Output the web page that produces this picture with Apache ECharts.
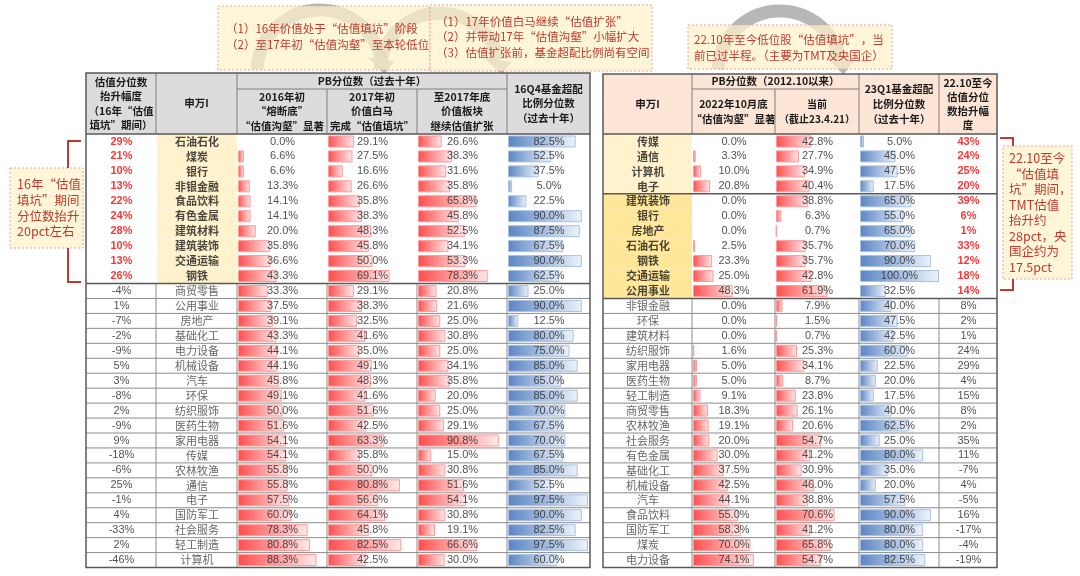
<!DOCTYPE html>
<html>
<head>
<meta charset="utf-8">
<script src="https://cdn.jsdelivr.net/npm/echarts@6/dist/echarts.min.js"></script>
<style>
html, body { margin: 0; padding: 0; background: #fff; }
#main { width: 1080px; height: 576px; }
</style>
</head>
<body>
<div id="main"></div>
<script>
// ---- data: left table (16-17年) ----
var leftNames = ['石油石化', '煤炭', '银行', '非银金融', '食品饮料', '有色金属', '建筑材料', '建筑装饰', '交通运输', '钢铁',
    '商贸零售', '公用事业', '房地产', '基础化工', '电力设备', '机械设备', '汽车', '环保', '纺织服饰', '医药生物',
    '家用电器', '传媒', '农林牧渔', '通信', '电子', '国防军工', '社会服务', '轻工制造', '计算机'];
var leftRise = [29, 21, 10, 13, 22, 24, 28, 10, 13, 26, -4, 1, -7, -2, -9, 5, 3, -8, 2, -9, 9, -18, -6, 25, -1, 4, -33, 2, -46];
var left2016 = [0.0, 6.6, 6.6, 13.3, 14.1, 14.1, 20.0, 35.8, 36.6, 43.3, 33.3, 37.5, 39.1, 43.3, 44.1, 44.1, 45.8, 49.1,
    50.0, 51.6, 54.1, 54.1, 55.8, 55.8, 57.5, 60.0, 78.3, 80.8, 88.3];
var left2017a = [29.1, 27.5, 16.6, 26.6, 35.8, 38.3, 48.3, 45.8, 50.0, 69.1, 29.1, 38.3, 32.5, 41.6, 35.0, 49.1, 48.3, 41.6,
    51.6, 42.5, 63.3, 35.8, 50.0, 80.8, 56.6, 64.1, 45.8, 82.5, 42.5];
var left2017b = [26.6, 38.3, 31.6, 35.8, 65.8, 45.8, 52.5, 34.1, 53.3, 78.3, 20.8, 21.6, 25.0, 30.8, 25.0, 34.1, 35.8, 20.0,
    25.0, 29.1, 90.8, 15.0, 30.8, 51.6, 54.1, 30.8, 19.1, 66.6, 30.0];
var left16Q4 = [82.5, 52.5, 37.5, 5.0, 22.5, 90.0, 87.5, 67.5, 90.0, 62.5, 25.0, 90.0, 12.5, 80.0, 75.0, 85.0, 65.0, 85.0,
    70.0, 67.5, 70.0, 67.5, 85.0, 52.5, 97.5, 90.0, 82.5, 97.5, 60.0];
var leftHot = 10;   // rows highlighted

// ---- data: right table (22.10以来) ----
var rightNames = ['传媒', '通信', '计算机', '电子', '建筑装饰', '银行', '房地产', '石油石化', '钢铁', '交通运输', '公用事业',
    '非银金融', '环保', '建筑材料', '纺织服饰', '家用电器', '医药生物', '轻工制造', '商贸零售', '农林牧渔', '社会服务',
    '有色金属', '基础化工', '机械设备', '汽车', '食品饮料', '国防军工', '煤炭', '电力设备'];
var right2210 = [0.0, 3.3, 10.0, 20.8, 0.0, 0.0, 0.0, 2.5, 23.3, 25.0, 48.3, 0.0, 0.0, 0.0, 1.6, 5.0, 5.0, 9.1, 18.3, 19.1,
    20.0, 30.0, 37.5, 42.5, 44.1, 55.0, 58.3, 70.0, 74.1];
var rightNow = [42.8, 27.7, 34.9, 40.4, 38.8, 6.3, 0.7, 35.7, 35.7, 42.8, 61.9, 7.9, 1.5, 0.7, 25.3, 34.1, 8.7, 23.8, 26.1,
    20.6, 54.7, 41.2, 30.9, 46.0, 38.8, 70.6, 41.2, 65.8, 54.7];
var right23Q1 = [5.0, 45.0, 47.5, 17.5, 65.0, 55.0, 65.0, 70.0, 90.0, 100.0, 32.5, 40.0, 47.5, 42.5, 60.0, 22.5, 20.0, 17.5,
    40.0, 62.5, 25.0, 80.0, 35.0, 20.0, 57.5, 90.0, 80.0, 80.0, 82.5];
var rightRise = [43, 24, 25, 20, 39, 6, 1, 33, 12, 18, 14, 8, 2, 1, 24, 29, 4, 15, 8, 2, 35, 11, -7, 4, -5, 16, -17, -4, -19];
var rightTMT = 4, rightHot = 11;

// header texts
var leftHead = ['估值分位数\n抬升幅度\n（16年“估值\n填坑”期间）', '申万I', 'PB分位数（过去十年）',
    '2016年初\n“熔断底”\n“估值沟壑”显著', '2017年初\n价值白马\n完成“估值填坑”', '至2017年底\n价值板块\n继续估值扩张',
    '16Q4基金超配\n比例分位数\n（过去十年）'];
var rightHead = ['申万I', 'PB分位数（2012.10以来）', '2022年10月底\n“估值沟壑”显著', '当前\n（截止23.4.21）',
    '23Q1基金超配\n比例分位数\n（过去十年）', '22.10至今\n估值分位\n数抬升幅\n度'];
var notes = ['（1）16年价值处于“估值填坑”阶段\n（2）至17年初“估值沟壑”至本轮低位',
    '（1）17年价值白马继续“估值扩张”\n（2）并带动17年“估值沟壑”小幅扩大\n（3）估值扩张前，基金超配比例尚有空间',
    '22.10年至今低位股“估值填坑”，当\n前已过半程。（主要为TMT及央国企）',
    '16年“估值\n填坑”期间\n分位数抬升\n20pct左右',
    '22.10至今\n“估值填\n坑”期间，\nTMT估值\n抬升约\n28pct，央\n国企约为\n17.5pct'];

var TOP = 134, RH = 14.95, N = 29, BOT = TOP + RH * N;
var LX = [86, 156, 237, 327, 417, 507, 590];
var RX = [603, 692, 775, 859, 939, 997];
var CJK = '"Noto Sans CJK SC", sans-serif';
var NUM = '"Liberation Sans", Arial, sans-serif';
var NOTE_C = '#c0392b';

var grids = [], xAxes = [], yAxes = [], series = [], g = [];
var rowIdx = leftNames.map(function (_, i) { return String(i); });

function addGrid(x0, x1) {
    var k = grids.length;
    grids.push({left: x0 + 1, width: x1 - x0 - 1, top: TOP, height: RH * N});
    xAxes.push({gridIndex: k, type: 'value', min: 0, max: 100, show: false});
    yAxes.push({gridIndex: k, type: 'category', inverse: true, show: false, data: rowIdx});
    return k;
}

function textCol(k, texts, font, styleFn) {
    series.push({
        type: 'scatter', xAxisIndex: k, yAxisIndex: k, symbolSize: 1, silent: true, z: 5,
        itemStyle: {color: 'rgba(0,0,0,0)'},
        data: texts.map(function (t, i) {
            var d = {value: [50, i]};
            if (styleFn) d.label = styleFn(i);
            return d;
        }),
        label: {
            show: true, position: 'inside', color: '#262626', fontFamily: font, fontSize: 11,
            formatter: function (p) { return texts[p.dataIndex]; }
        }
    });
}

function barCol(k, vals, c0, c1, border) {
    series.push({
        type: 'bar', xAxisIndex: k, yAxisIndex: k, barWidth: 12, silent: true, z: 2,
        data: vals.map(function (v) { return v === 0 ? '-' : v; }),
        itemStyle: {
            color: {type: 'linear', x: 0, y: 0, x2: 1, y2: 0,
                colorStops: [{offset: 0, color: c0}, {offset: 1, color: c1}]},
            borderColor: border, borderWidth: 1
        }
    });
    textCol(k, vals.map(function (v) { return v.toFixed(1) + '%'; }), NUM);
}
function redCol(k, vals) { barCol(k, vals, '#ff4d4d', '#ffeaea', '#ff9a9a'); }
function blueCol(k, vals) { barCol(k, vals, '#5a85c4', '#eef3fa', '#a9c0e2'); }

function fillCol(k, colorFn) {
    series.push({
        type: 'bar', xAxisIndex: k, yAxisIndex: k, barWidth: '100%', silent: true, z: 1,
        data: rowIdx.map(function (_, i) {
            var c = colorFn(i);
            return c ? {value: 100, itemStyle: {color: c}} : '-';
        })
    });
}

// ---- left table ----
var k;
k = addGrid(LX[0], LX[1]);
textCol(k, leftRise.map(function (v) { return v + '%'; }), NUM, function (i) {
    return i < leftHot ? {color: '#ff0000', fontWeight: 'bold'} : {};
});
k = addGrid(LX[1], LX[2]);
fillCol(k, function (i) { return i < leftHot ? '#fff2cc' : null; });
textCol(k, leftNames, CJK, function (i) {
    return i < leftHot ? {fontWeight: 'bold', color: '#1a1a1a'} : {color: '#404040'};
});
redCol(addGrid(LX[2], LX[3]), left2016);
redCol(addGrid(LX[3], LX[4]), left2017a);
redCol(addGrid(LX[4], LX[5]), left2017b);
blueCol(addGrid(LX[5], LX[6]), left16Q4);

// ---- right table ----
k = addGrid(RX[0], RX[1]);
fillCol(k, function (i) { return i < rightTMT ? '#fff2cc' : (i < rightHot ? '#ffe699' : null); });
textCol(k, rightNames, CJK, function (i) {
    return i < rightHot ? {fontWeight: 'bold', color: '#1a1a1a'} : {color: '#404040'};
});
redCol(addGrid(RX[1], RX[2]), right2210);
redCol(addGrid(RX[2], RX[3]), rightNow);
blueCol(addGrid(RX[3], RX[4]), right23Q1);
k = addGrid(RX[4], RX[5]);
textCol(k, rightRise.map(function (v) { return v + '%'; }), NUM, function (i) {
    return i < rightHot ? {color: '#ff0000', fontWeight: 'bold'} : {};
});

// ---- graphic helpers ----
function line(x1, y1, x2, y2, c, w, z) {
    g.push({type: 'line', z: z || 100, silent: true, shape: {x1: x1, y1: y1, x2: x2, y2: y2},
        style: {stroke: c, lineWidth: w}});
}
function cell(x0, y0, x1, y1, fill, text, fs) {
    g.push({type: 'rect', z: 20, silent: true, shape: {x: x0, y: y0, width: x1 - x0, height: y1 - y0},
        style: {fill: fill}});
    var nl = text.split('\n').length;
    g.push({type: 'text', z: 30, silent: true,
        style: {text: text, x: (x0 + x1) / 2, y: (y0 + y1) / 2, align: 'center', verticalAlign: 'middle',
            font: 'bold ' + (fs || 10.5) + 'px ' + CJK, lineHeight: nl > 3 ? 14.2 : 14.8, fill: '#1a1a1a'}});
}

// arcs (decoration behind the notes)
function arrowArc(cx, cy, r) {
    g.push({type: 'arc', z: 2, silent: true,
        shape: {cx: cx, cy: cy, r: r, startAngle: Math.PI * 1.02, endAngle: Math.PI * 1.93, clockwise: true},
        style: {stroke: 'rgba(165,165,165,0.8)', lineWidth: 13, fill: null}});
    var a = Math.PI * 1.93, ex = cx + r * Math.cos(a), ey = cy + r * Math.sin(a);
    g.push({type: 'polygon', z: 2, silent: true,
        shape: {points: [[ex - 14, ey - 2], [ex + 13, ey + 2], [ex + 3, ey + 15]]},
        style: {fill: 'rgba(165,165,165,0.8)'}});
}
arrowArc(320, 73, 63);
arrowArc(440, 73, 60);
arrowArc(780, 73, 62);

function noteBox(x0, y0, x1, y1, text, tx, ty, fs, lh, align) {
    g.push({type: 'rect', z: 4, silent: true, shape: {x: x0, y: y0, width: x1 - x0, height: y1 - y0},
        style: {fill: 'rgba(255,242,204,0.72)', stroke: '#f2a0a0', lineWidth: 1, lineDash: [2, 2]}});
    g.push({type: 'text', z: 5, silent: true,
        style: {text: text, x: tx, y: ty, align: align || 'left', verticalAlign: 'middle',
            font: fs + 'px ' + CJK, lineHeight: lh, fill: NOTE_C}});
}
noteBox(218, 6, 430, 70, notes[0], 226, 37, 11.5, 16);
noteBox(430, 5, 652, 71, notes[1], 436, 37, 11.5, 15.5);
noteBox(688, 25, 892, 69, notes[2], 694, 48, 11.5, 16);
noteBox(10, 168, 83, 248, notes[3], 17, 208, 12.5, 15.8);
noteBox(1003, 146, 1072, 279, notes[4], 1009, 212.5, 12.5, 15.5);

// brackets
g.push({type: 'polyline', z: 6, silent: true, shape: {points: [[81, 141], [68, 141], [68, 168]]},
    style: {stroke: NOTE_C, lineWidth: 2, fill: null}});
g.push({type: 'polyline', z: 6, silent: true, shape: {points: [[68, 248], [68, 282], [81, 282]]},
    style: {stroke: NOTE_C, lineWidth: 2, fill: null}});
g.push({type: 'polyline', z: 6, silent: true, shape: {points: [[1000, 138], [1013, 138], [1013, 146]]},
    style: {stroke: NOTE_C, lineWidth: 2, fill: null}});
g.push({type: 'polyline', z: 6, silent: true, shape: {points: [[1013, 279], [1013, 290], [1000, 290]]},
    style: {stroke: NOTE_C, lineWidth: 2, fill: null}});

// ---- left header ----
var HT = 73, HM = 89;
var LG = '#dcdcdc';
cell(LX[0], HT, LX[1], TOP, LG, leftHead[0]);
cell(LX[1], HT, LX[2], TOP, LG, leftHead[1]);
cell(LX[2], HT, LX[5], HM, LG, leftHead[2]);
cell(LX[2], HM, LX[3], TOP, LG, leftHead[3]);
cell(LX[3], HM, LX[4], TOP, LG, leftHead[4]);
cell(LX[4], HM, LX[5], TOP, LG, leftHead[5]);
cell(LX[5], HT, LX[6], TOP, LG, leftHead[6]);
[1, 2, 5].forEach(function (i) { line(LX[i], HT, LX[i], TOP, '#7f7f7f', 1); });
[3, 4].forEach(function (i) { line(LX[i], HM, LX[i], TOP, '#7f7f7f', 1); });
line(LX[2], HM, LX[5], HM, '#7f7f7f', 1);

// left body lines
var ySep = TOP + RH * leftHot;
for (var r = leftHot + 1; r < N; r++) line(LX[0], TOP + RH * r, LX[6], TOP + RH * r, '#8c8c8c', 1);
for (var c = 1; c < LX.length - 1; c++) line(LX[c], ySep, LX[c], BOT, '#8c8c8c', 1);
line(LX[0], ySep, LX[6], ySep, '#595959', 1.5);
line(LX[0], TOP, LX[6], TOP, '#595959', 1.5);
g.push({type: 'rect', z: 101, silent: true, shape: {x: LX[0], y: HT, width: LX[6] - LX[0], height: BOT - HT},
    style: {fill: null, stroke: '#595959', lineWidth: 1.5}});

// ---- right header ----
var RT = 74, RG = '#fce4d6';
cell(RX[0], RT, RX[1], TOP, RG, rightHead[0]);
cell(RX[1], RT, RX[3], HM, RG, rightHead[1]);
cell(RX[1], HM, RX[2], TOP, RG, rightHead[2]);
cell(RX[2], HM, RX[3], TOP, RG, rightHead[3], 10);
cell(RX[3], RT, RX[4], TOP, RG, rightHead[4]);
cell(RX[4], RT, RX[5], TOP, RG, rightHead[5]);
[1, 3, 4].forEach(function (i) { line(RX[i], RT, RX[i], TOP, '#7f7f7f', 1); });
line(RX[2], HM, RX[2], TOP, '#7f7f7f', 1);
line(RX[1], HM, RX[3], HM, '#7f7f7f', 1);

var ySepR = TOP + RH * rightHot, yTMT = TOP + RH * rightTMT;
for (var r2 = rightHot + 1; r2 < N; r2++) line(RX[0], TOP + RH * r2, RX[5], TOP + RH * r2, '#8c8c8c', 1);
for (var c2 = 1; c2 < RX.length - 1; c2++) line(RX[c2], ySepR, RX[c2], BOT, '#8c8c8c', 1);
line(RX[0], yTMT, RX[5], yTMT, '#595959', 1.5);
line(RX[0], ySepR, RX[5], ySepR, '#595959', 1.5);
line(RX[0], TOP, RX[5], TOP, '#595959', 1.5);
g.push({type: 'rect', z: 101, silent: true, shape: {x: RX[0], y: RT, width: RX[5] - RX[0], height: BOT - RT},
    style: {fill: null, stroke: '#595959', lineWidth: 1.5}});

var myChart = echarts.init(document.getElementById('main'), null, {renderer: 'canvas'});
myChart.setOption({
    animation: false,
    backgroundColor: '#ffffff',
    grid: grids,
    xAxis: xAxes,
    yAxis: yAxes,
    series: series,
    graphic: {elements: g}
});
</script>
</body>
</html>
